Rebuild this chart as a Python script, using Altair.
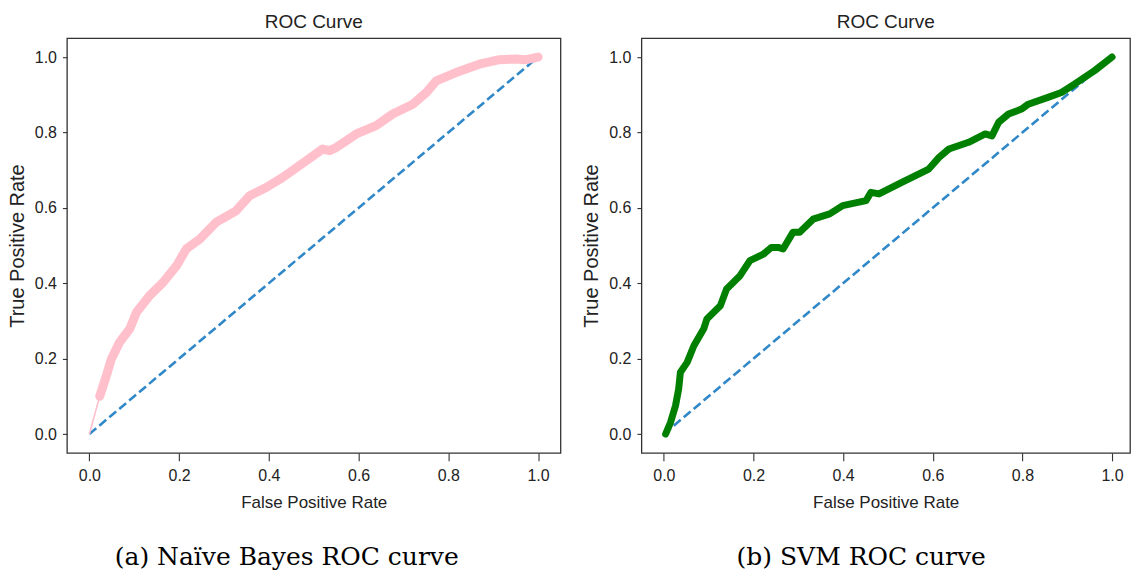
import altair as alt
import pandas as pd

# ---- data ----
nb_fpr = [0.0, 0.023, 0.038, 0.049, 0.067, 0.090, 0.105, 0.134, 0.164, 0.194, 0.216,
          0.246, 0.283, 0.327, 0.357, 0.394, 0.431, 0.468, 0.520, 0.535, 0.550, 0.595,
          0.639, 0.676, 0.721, 0.751, 0.773, 0.817, 0.869, 0.914, 0.951, 0.973, 1.0]
nb_tpr = [0.0, 0.100, 0.155, 0.199, 0.243, 0.279, 0.323, 0.367, 0.402, 0.446, 0.491,
          0.517, 0.562, 0.592, 0.632, 0.654, 0.681, 0.712, 0.756, 0.752, 0.760, 0.796,
          0.818, 0.849, 0.875, 0.906, 0.937, 0.959, 0.981, 0.993, 0.995, 0.993, 1.0]

svm_fpr = [0.004, 0.015, 0.026, 0.033, 0.037, 0.052, 0.067, 0.089, 0.096, 0.126, 0.140,
           0.170, 0.192, 0.222, 0.240, 0.255, 0.266, 0.288, 0.303, 0.333, 0.370, 0.399,
           0.451, 0.462, 0.480, 0.532, 0.591, 0.614, 0.636, 0.680, 0.717, 0.732, 0.747,
           0.769, 0.798, 0.813, 0.857, 0.887, 0.916, 0.961, 1.0]
svm_tpr = [0.000, 0.031, 0.075, 0.119, 0.164, 0.190, 0.234, 0.279, 0.305, 0.340, 0.385,
           0.420, 0.460, 0.477, 0.495, 0.495, 0.491, 0.535, 0.535, 0.570, 0.584, 0.606,
           0.619, 0.641, 0.637, 0.668, 0.703, 0.734, 0.756, 0.774, 0.796, 0.791, 0.827,
           0.849, 0.862, 0.875, 0.893, 0.906, 0.928, 0.964, 1.0]

diag_x = [0.0, 1.0]
diag_y = [0.0, 1.0]

tick_vals = [0.0, 0.2, 0.4, 0.6, 0.8, 1.0]
captions = ["(a) Naïve Bayes ROC curve", "(b) SVM ROC curve"]

SANS = "Liberation Sans"
TXT = "#222222"


def panel(fx, fy, color, thick, thin_first, caption, w, xmax):
    xs = alt.Scale(domain=[-0.05, xmax], nice=False, zero=False)
    ys = alt.Scale(domain=[-0.05, 1.05], nice=False, zero=False)
    xax = alt.Axis(values=tick_vals, format=".1f", title="False Positive Rate")
    yax = alt.Axis(values=tick_vals, format=".1f", title="True Positive Rate")

    diag = alt.Chart(pd.DataFrame({"x": diag_x, "y": diag_y})).mark_line(
        color="#3088c8", strokeWidth=2.6, strokeDash=[9, 4]
    ).encode(x=alt.X("x:Q", scale=xs, axis=xax), y=alt.Y("y:Q", scale=ys, axis=yax))

    full = pd.DataFrame({"x": fx, "y": fy})
    layers = [diag]
    if thin_first:
        layers.append(
            alt.Chart(full).mark_line(color=color, strokeWidth=1.6).encode(
                x=alt.X("x:Q", scale=xs), y=alt.Y("y:Q", scale=ys), order="x:Q")
        )
        body = full.iloc[1:]
    else:
        body = full
    layers.append(
        alt.Chart(body).mark_line(color=color, strokeWidth=thick, strokeJoin="round",
                                  strokeCap="round").encode(
            x=alt.X("x:Q", scale=xs), y=alt.Y("y:Q", scale=ys), order="x:Q")
    )
    layers.append(
        alt.Chart(pd.DataFrame({"t": [caption]})).mark_text(
            font="DejaVu Serif", fontSize=25, color="black", align="center",
            baseline="alphabetic"
        ).encode(text="t:N", x=alt.value(220), y=alt.value(527))
    )
    return alt.layer(*layers).properties(
        width=w, height=415,
        title=alt.TitleParams("ROC Curve", font=SANS, fontSize=19,
                              fontWeight="normal", color=TXT, offset=6, anchor="middle"),
    )


left = panel(nb_fpr, nb_tpr, "#ffc0cb", 9, True, captions[0], 494, 1.05)
right = panel(svm_fpr, svm_tpr, "#008000", 7, False, captions[1], 489, 1.04)

chart = alt.hconcat(left, right, spacing=81, bounds="flush").properties(
    padding={"left": 6, "top": 12, "right": 0, "bottom": 0}
).configure_view(
    stroke="#333333", strokeWidth=1.3
).configure_axis(
    grid=False, domain=False, ticks=True, tickColor="#333333", tickWidth=1.1,
    labelFont=SANS, labelFontSize=16, labelColor=TXT, labelFlush=False,
    titleColor=TXT, titleFontWeight="normal",
).configure_axisX(
    tickSize=8, labelPadding=7, titleFont=SANS, titleFontSize=17, titlePadding=11,
).configure_axisY(
    tickSize=4.5, labelPadding=6, titleFont=SANS, titleFontSize=20, titlePadding=7,
)

chart.save("out.html", embed_options={"renderer": "svg", "actions": False})
